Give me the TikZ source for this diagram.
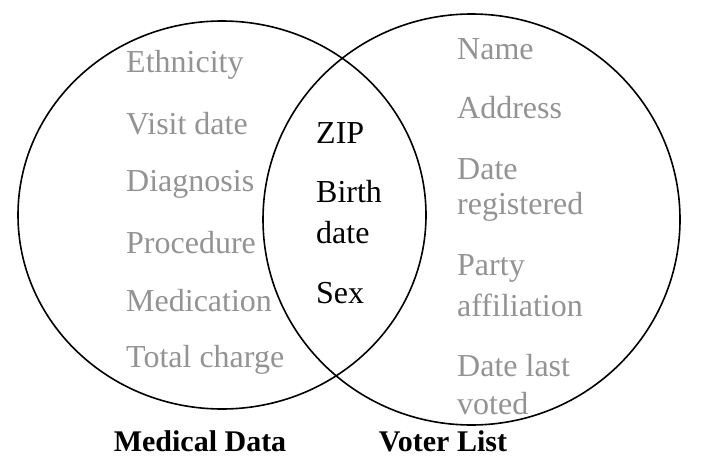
\documentclass[tikz,border=0pt]{standalone}
\usepackage{fontspec}
\setmainfont{Liberation Serif}
\begin{document}
\begin{tikzpicture}[x=1pt,y=-1pt,
 g/.style={anchor=west,text=gray!85,font=\fontsize{32}{34}\selectfont,inner sep=0},
 k/.style={anchor=west,text=black,font=\fontsize{32}{34}\selectfont,inner sep=0},
 t/.style={font=\bfseries\fontsize{30}{32}\selectfont,inner sep=0}]
\useasboundingbox (0,0) rectangle (706,468);
\draw[line width=1.6pt] (222,215) ellipse[x radius=204,y radius=194];
\draw[line width=1.6pt] (471.5,219.5) ellipse[x radius=208.5,y radius=205.5];
\node[g] (a1) at (126,65) {Ethnicity};
\node[g] (a2) at (126,124) {Visit date};
\node[g] (a3) at (126,184) {Diagnosis};
\node[g] (a4) at (126,243) {Procedure};
\node[g] (a5) at (126,301) {Medication};
\node[g] (a6) at (126,360) {Total charge};
\node[k] (c1) at (316,133) {ZIP};
\node[k] (c2) at (316,192) {Birth};
\node[k] (c3) at (316,233) {date};
\node[k] (c4) at (316,293) {Sex};
\node[g] (b1) at (457,49) {Name};
\node[g] (b2) at (457,108) {Address};
\node[g] (b3) at (457,169) {Date};
\node[g] (b4) at (457,207) {registered};
\node[g] (b5) at (457,268) {Party};
\node[g] (b6) at (457,305) {affiliation};
\node[g] (b7) at (457,366) {Date last};
\node[g] (b8) at (457,404) {voted};
\node[t] (l1) at (200,441) {Medical Data};
\node[t] (l2) at (443,441) {Voter List};
\end{tikzpicture}
\end{document}
